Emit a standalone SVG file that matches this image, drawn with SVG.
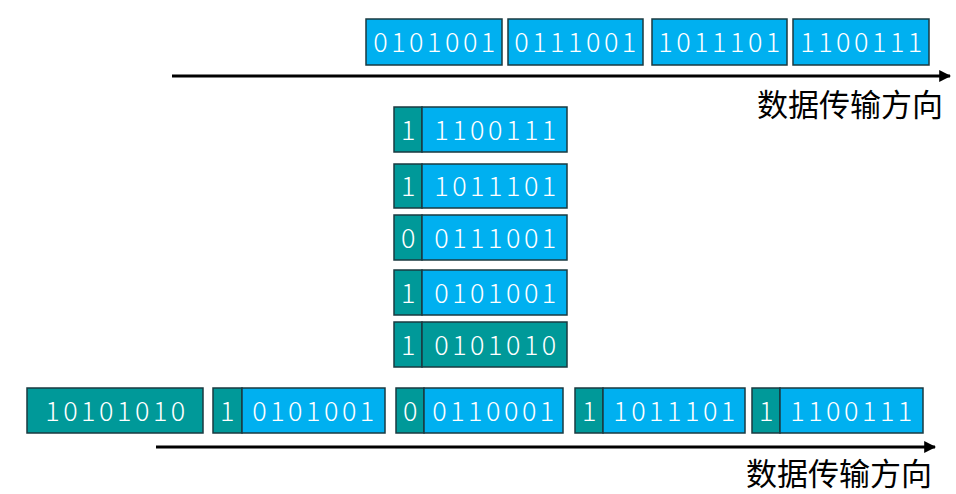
<svg xmlns="http://www.w3.org/2000/svg" width="956" height="494" viewBox="0 0 956 494">
<defs>
<style>
.b{fill:#00B0F0;stroke:#1a3a40;stroke-width:1.5}
.t{fill:#009999;stroke:#1a3a40;stroke-width:1.5}
.x{fill:#fff;font-family:"Noto Sans CJK SC","DejaVu Sans",sans-serif;font-weight:300;font-size:27px;text-anchor:middle;letter-spacing:3.5px}
.l{fill:#000;font-family:"Noto Sans CJK SC",sans-serif;font-size:31px;text-anchor:end}
.a{stroke:#000;stroke-width:3;fill:none}
</style>
<marker id="ar" viewBox="0 0 10 10" refX="9" refY="5" markerWidth="4" markerHeight="4" orient="auto"><path d="M0,0L10,5L0,10z" fill="#000"/></marker>
</defs>
<rect width="956" height="494" fill="#fff"/>
<g id="connectors">
<line class="a" x1="172" y1="76" x2="950" y2="76" marker-end="url(#ar)"/>
<line class="a" x1="156" y1="447" x2="935" y2="447" marker-end="url(#ar)"/>
</g>
<g id="top-row">
<rect class="b" x="366" y="19" width="136" height="46"/><text class="x" x="436" y="52">0101001</text>
<rect class="b" x="508" y="19" width="135" height="46"/><text class="x" x="577" y="52">0111001</text>
<rect class="b" x="652" y="19" width="135" height="46"/><text class="x" x="721" y="52">1011101</text>
<rect class="b" x="793" y="19" width="136" height="46"/><text class="x" x="863" y="52">1100111</text>
<text class="l" x="943" y="116">数据传输方向</text>
</g>
<g id="column">
<rect class="t" x="394" y="107" width="28" height="45"/><rect class="b" x="422" y="107" width="145" height="45"/><text class="x" x="410" y="140">1</text><text class="x" x="497" y="140">1100111</text>
<rect class="t" x="394" y="164" width="28" height="44"/><rect class="b" x="422" y="164" width="145" height="44"/><text class="x" x="410" y="196">1</text><text class="x" x="497" y="196">1011101</text>
<rect class="t" x="394" y="215" width="28" height="45"/><rect class="b" x="422" y="215" width="145" height="45"/><text class="x" x="410" y="248">0</text><text class="x" x="497" y="248">0111001</text>
<rect class="t" x="394" y="270" width="28" height="45"/><rect class="b" x="422" y="270" width="145" height="45"/><text class="x" x="410" y="303">1</text><text class="x" x="497" y="303">0101001</text>
<rect class="t" x="394" y="322" width="28" height="45"/><rect class="t" x="422" y="322" width="145" height="45"/><text class="x" x="410" y="355">1</text><text class="x" x="497" y="355">0101010</text>
</g>
<g id="bottom-row">
<rect class="t" x="27" y="388" width="176" height="45"/><text class="x" x="117" y="421">10101010</text>
<rect class="t" x="213" y="388" width="29" height="45"/><rect class="b" x="242" y="388" width="143" height="45"/><text class="x" x="229" y="421">1</text><text class="x" x="315" y="421">0101001</text>
<rect class="t" x="396" y="388" width="28" height="45"/><rect class="b" x="424" y="388" width="139" height="45"/><text class="x" x="412" y="421">0</text><text class="x" x="495" y="421">0110001</text>
<rect class="t" x="575" y="388" width="28" height="45"/><rect class="b" x="603" y="388" width="142" height="45"/><text class="x" x="591" y="421">1</text><text class="x" x="676" y="421">1011101</text>
<rect class="t" x="752" y="388" width="28" height="45"/><rect class="b" x="780" y="388" width="143" height="45"/><text class="x" x="768" y="421">1</text><text class="x" x="853" y="421">1100111</text>
<text class="l" x="932" y="485">数据传输方向</text>
</g>
</svg>
